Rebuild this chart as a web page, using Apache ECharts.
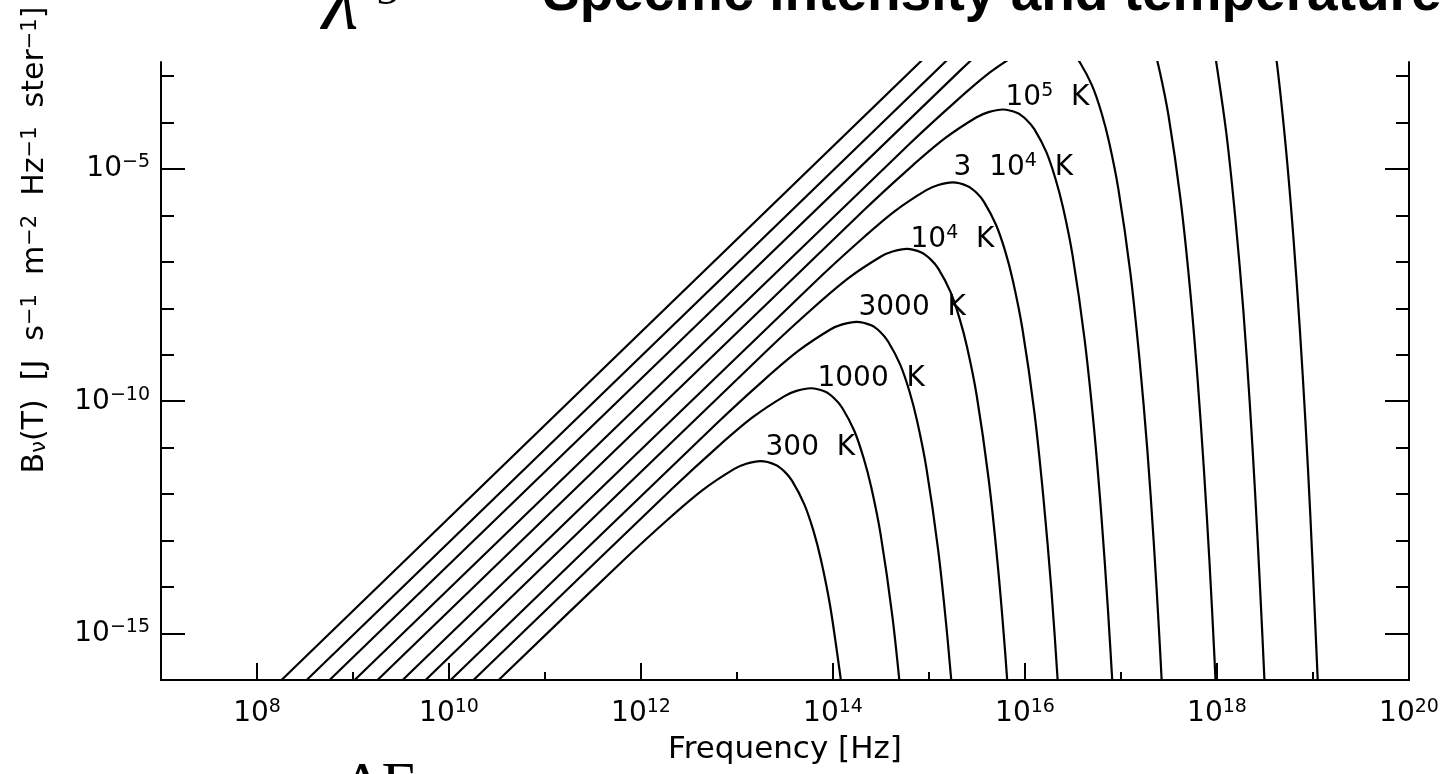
<!DOCTYPE html>
<html>
<head>
<meta charset="utf-8">
<title>Specific intensity and temperature</title>
<script src="https://cdn.jsdelivr.net/npm/echarts@6/dist/echarts.min.js"></script>
<style>
  html, body { margin: 0; padding: 0; background: #fff; }
  #chart { width: 1443px; height: 774px; }
</style>
</head>
<body>
<div id="chart"></div>
<script>
// Blackbody specific intensity B_nu(T) for ten temperatures.
// Frequencies in Hz, intensities in J s^-1 m^-2 Hz^-1 ster^-1.
// A null entry marks where a curve runs off the top of the frame and comes back.

const nu300 = [3.29e10, 6.25e11, 1.88e12, 4.38e12, 9.38e12, 1.25e13, 1.76e13, 2.5e13, 3.13e13, 3.75e13, 5.0e13, 6.25e13, 7.5e13, 9.38e13, 1.25e14];
const B300  = [1e-16, 3.43e-14, 2.78e-13, 1.22e-12, 3.49e-12, 4.51e-12, 5.12e-12, 4.30e-12, 3.06e-12, 1.93e-12, 6.19e-13, 1.64e-13, 3.83e-14, 3.72e-15, 5.94e-17];

const nu1000 = [1.80e10, 2.08e12, 6.25e12, 1.46e13, 3.13e13, 4.17e13, 5.88e13, 8.34e13, 1.04e14, 1.25e14, 1.67e14, 2.08e14, 2.5e14, 3.13e14, 4.17e14, 5.21e14];
const B1000  = [1e-16, 1.27e-12, 1.03e-11, 4.52e-11, 1.29e-10, 1.67e-10, 1.90e-10, 1.59e-10, 1.13e-10, 7.16e-11, 2.29e-11, 6.06e-12, 1.42e-12, 1.38e-13, 2.20e-15, 2.90e-17];

const nu3000 = [1.04e10, 6.25e12, 1.88e13, 4.38e13, 9.38e13, 1.25e14, 1.76e14, 2.5e14, 3.13e14, 3.75e14, 5.0e14, 6.25e14, 7.5e14, 9.38e14, 1.25e15, 1.56e15, 1.88e15];
const B3000  = [1e-16, 3.43e-11, 2.78e-10, 1.22e-9, 3.49e-9, 4.51e-9, 5.12e-9, 4.30e-9, 3.06e-9, 1.93e-9, 6.19e-10, 1.64e-10, 3.83e-11, 3.72e-12, 5.94e-14, 7.82e-16, 9.10e-18];

const nu1e4 = [5.70e9, 2.08e13, 6.25e13, 1.46e14, 3.13e14, 4.17e14, 5.88e14, 8.34e14, 1.04e15, 1.25e15, 1.67e15, 2.08e15, 2.5e15, 3.13e15, 4.17e15, 5.21e15, 6.25e15, 7.29e15];
const B1e4  = [1e-16, 1.27e-9, 1.03e-8, 4.52e-8, 1.29e-7, 1.67e-7, 1.90e-7, 1.59e-7, 1.13e-7, 7.16e-8, 2.29e-8, 6.06e-9, 1.42e-9, 1.38e-10, 2.20e-12, 2.90e-14, 3.37e-16, 3.61e-18];

const nu3e4 = [3.29e9, 6.25e13, 1.88e14, 4.38e14, 9.38e14, 1.25e15, 1.76e15, 2.5e15, 3.13e15, 3.75e15, 5.0e15, 6.25e15, 7.5e15, 9.38e15, 1.25e16, 1.56e16, 1.88e16, 2.19e16, 2.5e16];
const B3e4  = [1e-16, 3.43e-8, 2.78e-7, 1.22e-6, 3.49e-6, 4.51e-6, 5.12e-6, 4.30e-6, 3.06e-6, 1.93e-6, 6.19e-7, 1.64e-7, 3.83e-8, 3.72e-9, 5.94e-11, 7.82e-13, 9.10e-15, 9.74e-17, 9.80e-19];

const nu1e5 = [1.80e9, 2.08e14, 6.25e14, 1.46e15, 3.13e15, 4.17e15, 5.88e15, 8.34e15, 1.04e16, 1.25e16, 1.67e16, 2.08e16, 2.5e16, 3.13e16, 4.17e16, 5.21e16, 6.25e16, 7.29e16, 8.34e16];
const B1e5  = [1e-16, 1.27e-6, 1.03e-5, 4.52e-5, 1.29e-4, 1.67e-4, 1.90e-4, 1.59e-4, 1.13e-4, 7.16e-5, 2.29e-5, 6.06e-6, 1.42e-6, 1.38e-7, 2.20e-9, 2.90e-11, 3.37e-13, 3.61e-15, 3.63e-17];

const nu3e5 = [1.04e9, 6.25e14, 1.88e15, 4.38e15, 9.38e15, null, 3.13e16, 3.75e16, 5.0e16, 6.25e16, 7.5e16, 9.38e16, 1.25e17, 1.56e17, 1.88e17, 2.19e17, 2.5e17, 2.81e17];
const B3e5  = [1e-16, 3.43e-5, 2.78e-4, 1.22e-3, 3.49e-3, null, 3.06e-3, 1.93e-3, 6.19e-4, 1.64e-4, 3.83e-5, 3.72e-6, 5.94e-8, 7.82e-10, 9.10e-12, 9.74e-14, 9.80e-16, 9.40e-18];

const nu1e6 = [5.70e8, 2.08e15, 6.25e15, null, 2.08e17, 2.5e17, 3.13e17, 4.17e17, 5.21e17, 6.25e17, 7.29e17, 8.34e17, 9.38e17, 1.04e18];
const B1e6  = [1e-16, 1.27e-3, 1.03e-2, null, 6.06e-3, 1.42e-3, 1.38e-4, 2.20e-6, 2.90e-8, 3.37e-10, 3.61e-12, 3.63e-14, 3.48e-16, 3.22e-18];

const nu3e6 = [3.29e8, 1.8e15, null, 9.38e17, 1.25e18, 1.56e18, 1.88e18, 2.19e18, 2.5e18, 2.81e18, 3.13e18, 3.44e18];
const B3e6  = [1e-16, 3.0e-3, null, 3.72e-3, 5.94e-5, 7.82e-7, 9.10e-9, 9.74e-11, 9.80e-13, 9.40e-15, 8.69e-17, 7.79e-19];

const nu1e7 = [1.80e8, 9.9e14, null, 3.13e18, 4.17e18, 5.21e18, 6.25e18, 7.29e18, 8.34e18, 9.38e18, 1.04e19, 1.15e19];
const B1e7  = [1e-16, 3.0e-3, null, 0.138, 2.20e-3, 2.90e-5, 3.37e-7, 3.61e-9, 3.63e-11, 3.48e-13, 3.22e-15, 2.89e-17];

// Temperature annotations next to the peaks (left edge of each label)
const labelText = ['300 K', '1000 K', '3000 K', '10^4 K', '3 10^4 K', '10^5 K'];
const labelNu   = [1.96e13, 6.81e13, 1.82e14, 6.34e14, 1.78e15, 6.19e15];
const labelB    = [1.02e-11, 2.98e-10, 1.01e-8, 2.95e-7, 1.05e-5, 3.39e-4];

// Axis ranges and ticks
const xRange = [1e7, 1e20];
const yRange = [1e-16, 2.0e-3];
const xMinorTicks = [1e8, 1e9, 1e10, 1e11, 1e12, 1e13, 1e14, 1e15, 1e16, 1e17, 1e18, 1e19];
const xMajorTicks = [1e8, 1e10, 1e12, 1e14, 1e16, 1e18];
const xTickLabels = [1e8, 1e10, 1e12, 1e14, 1e16, 1e18, 1e20];
const yMinorTicks = [1e-15, 1e-14, 1e-13, 1e-12, 1e-11, 1e-10, 1e-9, 1e-8, 1e-7, 1e-6, 1e-5, 1e-4, 1e-3];
const yMajorTicks = [1e-15, 1e-10, 1e-5];
const yTickLabels = [1e-15, 1e-10, 1e-5];

const curves = [
  [nu300, B300], [nu1000, B1000], [nu3000, B3000], [nu1e4, B1e4], [nu3e4, B3e4],
  [nu1e5, B1e5], [nu3e5, B3e5], [nu1e6, B1e6], [nu3e6, B3e6], [nu1e7, B1e7]
];

const FONT = 'DejaVu Sans';
const INK = '#000';

const minus = s => String(s).replace('-', '\u2212');
const powerLabel = v => '{b|10}{e|' + minus(Math.round(Math.log10(v))) + '}';

const tickRich = {
  b: { fontFamily: FONT, fontSize: 28, color: INK, lineHeight: 32 },
  e: { fontFamily: FONT, fontSize: 19, color: INK, lineHeight: 20, verticalAlign: 'top' }
};

// "10^4 K" -> rich text with superscript, words separated by a double space
const richTemp = s => s.split(' ').map(w => {
  const m = w.match(/^(\d+)\^(\d+)$/);
  return m ? '{n|' + m[1] + '}{s|' + m[2] + '}' : '{n|' + w + '}';
}).join('{n|  }');

function xAxisDef(ticks, len, withLine, withLabels) {
  const axis = {
    type: 'log', logBase: 10, min: xRange[0], max: xRange[1], position: 'bottom',
    axisLine: { show: withLine, onZero: false, lineStyle: { color: INK, width: 2 } },
    axisTick: { show: true, inside: true, length: len, customValues: ticks,
                lineStyle: { color: INK, width: 2 } },
    axisLabel: withLabels
      ? { show: true, customValues: xTickLabels, formatter: powerLabel, margin: 18, rich: tickRich }
      : { show: false },
    minorTick: { show: false }, splitLine: { show: false }
  };
  if (withLabels) {
    axis.name = 'Frequency [Hz]';
    axis.nameLocation = 'middle';
    axis.nameGap = 70;
    axis.nameTextStyle = { fontFamily: FONT, fontSize: 31, color: INK, verticalAlign: 'middle' };
  }
  return axis;
}

function yAxisDef(pos, ticks, len, withLine, withLabels) {
  return {
    type: 'log', logBase: 10, min: yRange[0], max: yRange[1], position: pos,
    axisLine: { show: withLine, onZero: false, lineStyle: { color: INK, width: 2 } },
    axisTick: { show: true, inside: true, length: len, customValues: ticks,
                lineStyle: { color: INK, width: 2 } },
    axisLabel: withLabels
      ? { show: true, customValues: yTickLabels, formatter: powerLabel, margin: 11, rich: tickRich }
      : { show: false },
    minorTick: { show: false }, splitLine: { show: false }
  };
}

const series = curves.map(([nu, B]) => ({
  type: 'line',
  xAxisIndex: 0, yAxisIndex: 0,
  data: nu.map((v, i) => (v === null ? ['-', '-'] : [v, B[i]])),
  showSymbol: false, symbol: 'none',
  smooth: 0.3,
  connectNulls: false,
  clip: true,
  lineStyle: { color: INK, width: 2.2 },
  silent: true
}));

series.push({
  type: 'scatter',
  xAxisIndex: 0, yAxisIndex: 0,
  symbol: 'circle', symbolSize: 1,
  itemStyle: { color: 'rgba(0,0,0,0)' },
  data: labelNu.map((v, i) => [v, labelB[i]]),
  label: {
    show: true, position: 'right', distance: 0,
    color: INK, opacity: 1, textBorderWidth: 0,
    formatter: p => richTemp(labelText[p.dataIndex]),
    rich: {
      n: { fontFamily: FONT, fontSize: 28, color: INK, lineHeight: 32 },
      s: { fontFamily: FONT, fontSize: 19, color: INK, lineHeight: 20, verticalAlign: 'top' }
    }
  },
  silent: true, z: 5
});

const option = {
  backgroundColor: '#fff',
  animation: false,
  grid: { left: 161, top: 62, width: 1248, height: 618, containLabel: false, outerBoundsMode: 'none' },
  xAxis: [
    xAxisDef(xMinorTicks, 8, true, true),
    xAxisDef(xMajorTicks, 17, false, false)
  ],
  yAxis: [
    yAxisDef('left', yMinorTicks, 13, true, true),
    yAxisDef('left', yMajorTicks, 24, false, false),
    yAxisDef('right', yMinorTicks, 13, true, false),
    yAxisDef('right', yMajorTicks, 24, false, false)
  ],
  series: series,
  graphic: [
    {
      type: 'text', x: 35, y: 240, rotation: Math.PI / 2,
      style: {
        text: 'B{sub|\u03bd}(T)  [J  s{sup|\u22121}  m{sup|\u22122}  Hz{sup|\u22121}  ster{sup|\u22121}]',
        font: '30px "DejaVu Sans"', fill: INK, align: 'center', verticalAlign: 'middle',
        rich: {
          sub: { fontFamily: FONT, fontSize: 21, lineHeight: 21, verticalAlign: 'bottom', fill: INK },
          sup: { fontFamily: FONT, fontSize: 21, lineHeight: 21, verticalAlign: 'top', fill: INK }
        }
      }
    },
    {
      type: 'text', x: 543, y: -5,
      style: { text: 'Specific intensity and temperature', font: 'bold 55px "Liberation Sans"',
               fill: INK, align: 'left', verticalAlign: 'middle' }
    },
    {
      type: 'text', x: 322, y: 6,
      style: { text: '\u03bb', font: 'italic 84px "Liberation Serif"', fill: INK,
               align: 'left', verticalAlign: 'middle' }
    },
    {
      type: 'text', x: 376, y: -8,
      style: { text: '5', font: '46px "Liberation Serif"', fill: INK,
               align: 'left', verticalAlign: 'middle' }
    },
    {
      type: 'text', x: 343, y: 787,
      style: { text: '\u0394E', font: '60px "Liberation Serif"', fill: INK,
               align: 'left', verticalAlign: 'middle' }
    }
  ]
};

const chart = echarts.init(document.getElementById('chart'));
chart.setOption(option);
</script>
</body>
</html>
